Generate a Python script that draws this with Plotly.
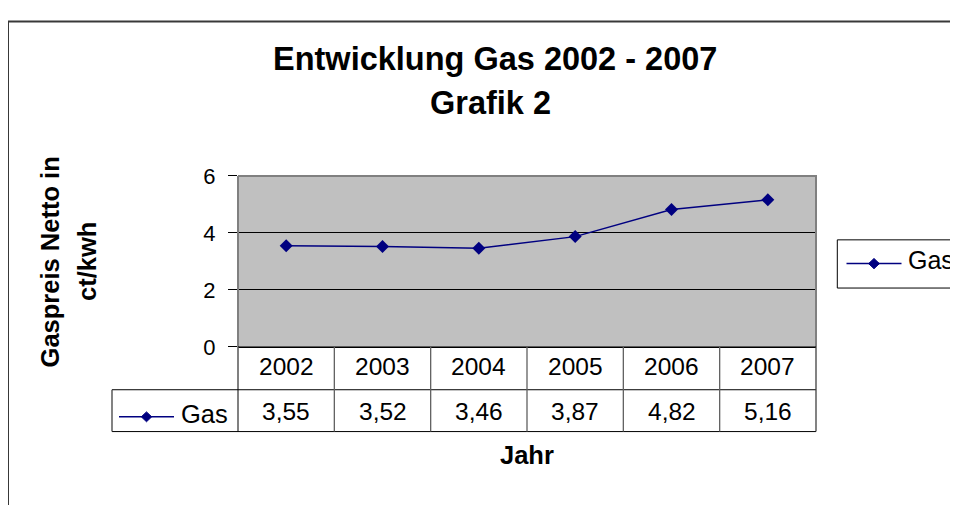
import plotly.graph_objects as go

# ---- data ----
years = ["2002", "2003", "2004", "2005", "2006", "2007"]
gas = [3.55, 3.52, 3.46, 3.87, 4.82, 5.16]
series_name = "Gas"
title_line1 = "Entwicklung Gas 2002 - 2007"
title_line2 = "Grafik 2"
y_title_1 = "Gaspreis Netto in"
y_title_2 = "ct/kwh"
x_title = "Jahr"
y_ticks = [0, 2, 4, 6]

W, H = 958, 505
OFF = 8  # page offset of the figure in the screenshot
FONT = "Arial, Liberation Sans, sans-serif"
NAVY = "#000080"


def px(x):
    return (x - OFF) / W


def py(y):
    return 1 - (y - OFF) / H


# plot area / table in screen pixels
PL, PR, PT, PB = 238, 816, 172, 352
ROW1_B, ROW2_B = 397, 441
KEY_L = 112

fig = go.Figure()
fig.add_trace(go.Scatter(
    x=list(range(len(years))), y=gas, mode="lines+markers", name=series_name,
    line=dict(color=NAVY, width=1.5),
    marker=dict(symbol="diamond", size=10, color=NAVY),
    showlegend=False, cliponaxis=False,
))

shapes = []
# outer chart border
shapes.append(dict(type="rect", xref="paper", yref="paper",
                   x0=px(8), x1=1.05, y0=-0.05, y1=py(9.7),
                   line=dict(color="#383838", width=2), layer="below"))
# plot area top/right border (gray)
shapes.append(dict(type="line", xref="paper", yref="paper", x0=px(PL), x1=px(PR + 1),
                   y0=py(PT), y1=py(PT), line=dict(color="#808080", width=2)))
shapes.append(dict(type="line", xref="paper", yref="paper", x0=px(PR), x1=px(PR),
                   y0=py(PT), y1=py(PB), line=dict(color="#808080", width=2)))
# left axis line extending through the table
shapes.append(dict(type="line", xref="paper", yref="paper", x0=px(PL), x1=px(PL),
                   y0=py(PT), y1=py(ROW2_B), line=dict(color="#808080", width=2)))
# table horizontals
for yy, x0 in [(PB, PL), (ROW1_B, KEY_L), (ROW2_B, KEY_L)]:
    shapes.append(dict(type="line", xref="paper", yref="paper", x0=px(x0), x1=px(PR),
                       y0=py(yy), y1=py(yy), line=dict(color="black", width=1)))
# table verticals between categories
for i in range(len(years) - 1):
    shapes.append(dict(type="line", xref="x", yref="paper", x0=i + 0.5, x1=i + 0.5,
                       y0=py(PB), y1=py(ROW2_B), line=dict(color="#606060", width=1.3)))
shapes.append(dict(type="line", xref="paper", yref="paper", x0=px(PR), x1=px(PR),
                   y0=py(PB), y1=py(ROW2_B), line=dict(color="#404040", width=1.3)))
shapes.append(dict(type="line", xref="paper", yref="paper", x0=px(KEY_L), x1=px(KEY_L),
                   y0=py(ROW1_B), y1=py(ROW2_B), line=dict(color="#404040", width=1.3)))


def key(cx, cy, half_len, r):
    out = [dict(type="line", xref="paper", yref="paper", x0=px(cx - half_len), x1=px(cx + half_len),
                y0=py(cy), y1=py(cy), line=dict(color=NAVY, width=1.5))]
    path = (f"M {px(cx)},{py(cy - r)} L {px(cx + r)},{py(cy)} "
            f"L {px(cx)},{py(cy + r)} L {px(cx - r)},{py(cy)} Z")
    out.append(dict(type="path", xref="paper", yref="paper", path=path,
                    fillcolor=NAVY, line=dict(color=NAVY, width=1)))
    return out


# key in the data table
shapes += key(146.5, 425.5, 27.5, 5.2)
# legend box + key
shapes.append(dict(type="rect", xref="paper", yref="paper", x0=px(837.3), x1=px(975),
                   y0=py(290), y1=py(239.3), line=dict(color="black", width=1)))
shapes += key(874, 264.3, 27.5, 5.4)

TXT = dict(family=FONT, color="black")
ann = []
ann.append(dict(text=f"<b>{title_line1}</b>", x=px(495), y=py(48.7), xref="paper", yref="paper",
                showarrow=False, font=dict(size=32.5, **TXT), xanchor="center", yanchor="middle"))
ann.append(dict(text=f"<b>{title_line2}</b>", x=px(491), y=py(95), xref="paper", yref="paper",
                showarrow=False, font=dict(size=32.5, **TXT), xanchor="center", yanchor="middle"))
ann.append(dict(text=f"<b>{y_title_1}</b>", x=px(49.5), y=py(262.5), xref="paper", yref="paper",
                showarrow=False, textangle=-90, font=dict(size=25.5, **TXT),
                xanchor="center", yanchor="middle"))
ann.append(dict(text=f"<b>{y_title_2}</b>", x=px(87), y=py(262.5), xref="paper", yref="paper",
                showarrow=False, textangle=-90, font=dict(size=25.5, **TXT),
                xanchor="center", yanchor="middle"))
ann.append(dict(text=f"<b>{x_title}</b>", x=0.5 * (len(years) - 1), y=py(466), xref="x", yref="paper",
                showarrow=False, font=dict(size=25.5, **TXT), xanchor="center", yanchor="middle"))
for i, (yr, v) in enumerate(zip(years, gas)):
    ann.append(dict(text=yr, x=i, y=py(372.5), xref="x", yref="paper", showarrow=False,
                    font=dict(size=24.5, **TXT), xanchor="center", yanchor="middle"))
    ann.append(dict(text=f"{v:.2f}".replace(".", ","), x=i, y=py(419.5), xref="x", yref="paper",
                    showarrow=False, font=dict(size=24.5, **TXT), xanchor="center", yanchor="middle"))
ann.append(dict(text=series_name, x=px(178.7), y=py(422), xref="paper", yref="paper", showarrow=False,
                font=dict(size=25.5, **TXT), xanchor="left", yanchor="middle"))
ann.append(dict(text=series_name, x=px(905.7), y=py(261), xref="paper", yref="paper", showarrow=False,
                font=dict(size=25, **TXT), xanchor="left", yanchor="middle"))

fig.update_layout(
    width=W, height=H, margin=dict(l=0, r=0, t=0, b=0),
    paper_bgcolor="white", plot_bgcolor="#C0C0C0",
    font=dict(family=FONT, color="black"),
    shapes=shapes, annotations=ann,
    xaxis=dict(domain=[px(PL), px(PR)], range=[-0.5, len(years) - 0.5], type="linear",
               showticklabels=False, ticks="", showgrid=False, zeroline=False,
               showline=True, linecolor="black", linewidth=1, fixedrange=True),
    yaxis=dict(domain=[py(PB), py(PT)], range=[0, 6], tickvals=y_ticks,
               ticks="outside", ticklen=9, tickcolor="black", tickwidth=1,
               tickfont=dict(size=22, **TXT), ticklabelstandoff=8,
               showgrid=True, gridcolor="black", gridwidth=1, zeroline=False,
               showline=False, fixedrange=True),
    showlegend=False,
)

fig.write_html("out.html")
